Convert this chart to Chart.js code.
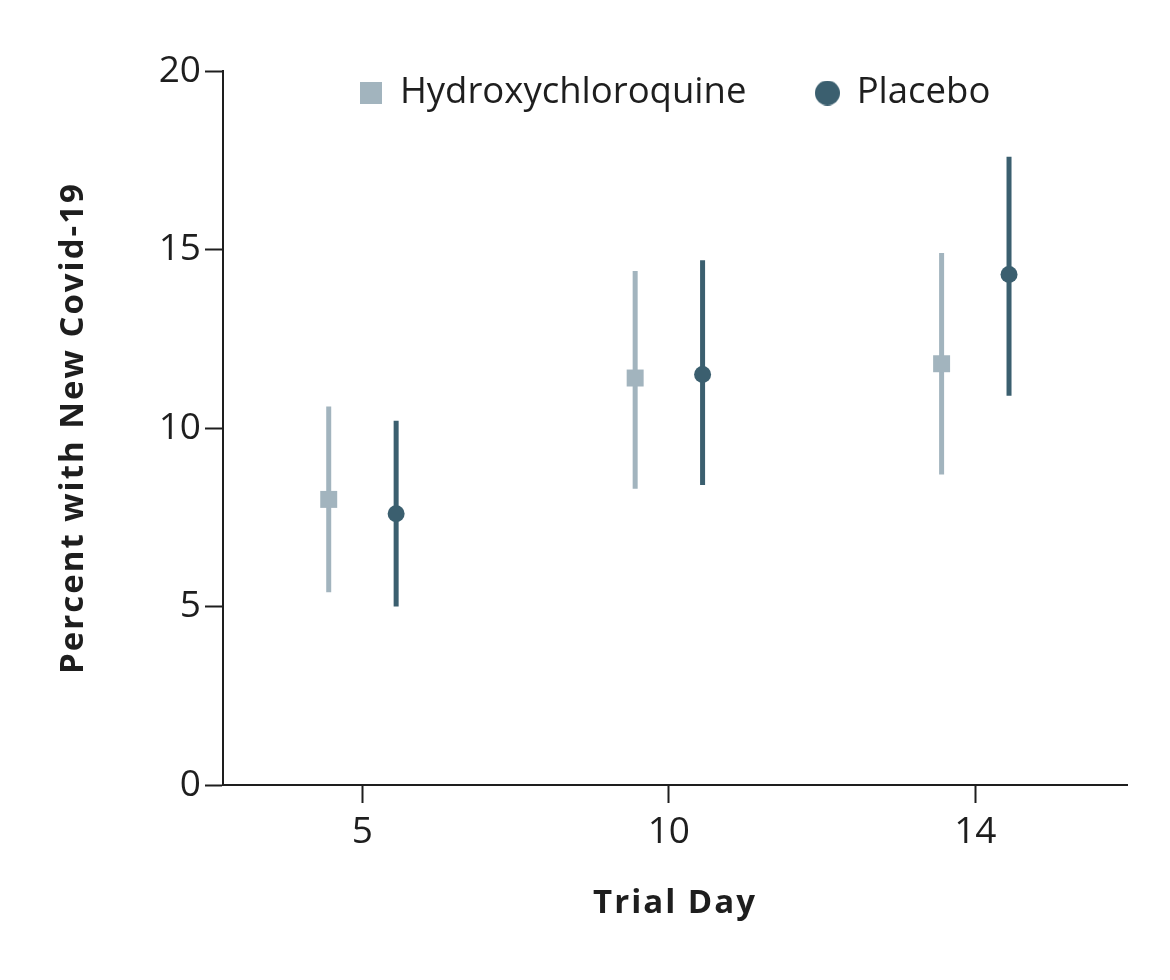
<!DOCTYPE html>
<html>
<head>
<meta charset="utf-8">
<script src="https://cdn.jsdelivr.net/npm/chart.js@4.4.1/dist/chart.umd.min.js"></script>
<style>
  html, body { margin: 0; padding: 0; background: #fff; }
  #wrap { width: 1170px; height: 980px; }
</style>
</head>
<body>
<div id="wrap"><canvas id="c" width="1170" height="980"></canvas></div>
<script>
const days = ['5', '10', '14'];
const seriesNames = ['Hydroxychloroquine', 'Placebo'];
const hcqValues = [8.0, 11.4, 11.8];
const hcqLow = [5.4, 8.3, 8.7];
const hcqHigh = [10.6, 14.4, 14.9];
const placeboValues = [7.6, 11.5, 14.3];
const placeboLow = [5.0, 8.4, 10.9];
const placeboHigh = [10.2, 14.7, 17.6];
const yTicks = [0, 5, 10, 15, 20];

const HCQ_COLOR = '#a2b4be';
const PLACEBO_COLOR = '#3b5f6f';
const TEXT_COLOR = '#1e1e1e';
const AXIS_COLOR = '#1e1e1e';
const FONT = '"Open Sans", Lato, sans-serif';
const OFFSET = 0.11;
const LEGEND_SPACING = '0px';
const TITLE_SPACING = '2px';
const LEGEND_CENTER_Y = 93;

function pts(vals, shift) {
  return vals.map((v, i) => ({ x: i + shift, y: v }));
}
function bars(lo, hi, shift) {
  const out = [];
  lo.forEach((l, i) => {
    out.push({ x: i + shift, y: l });
    out.push({ x: i + shift, y: hi[i] });
    out.push({ x: i + shift, y: null });
  });
  return out;
}
function legendIcon(kind, color, size) {
  const c = document.createElement('canvas');
  c.width = size; c.height = size;
  const g = c.getContext('2d');
  g.fillStyle = color;
  if (kind === 'rect') g.fillRect(0, 0, size, size);
  else { g.beginPath(); g.arc(size / 2, size / 2, size / 2, 0, Math.PI * 2); g.fill(); }
  return c;
}
const legendIcons = [legendIcon('rect', HCQ_COLOR, 22), legendIcon('circle', PLACEBO_COLOR, 25)];

const layoutTweaks = {
  id: 'layoutTweaks',
  beforeLayout(chart) {
    const lg = chart.legend;
    if (lg && !lg._tweaked) {
      lg._tweaked = true;
      lg.isHorizontal = () => true;
      const origFit = lg.fit, origDraw = lg.draw;
      lg.fit = function () {
        const c = this.ctx; c.save(); c.letterSpacing = LEGEND_SPACING;
        origFit.apply(this, arguments); c.restore();
      };
      lg.draw = function () {
        const c = this.ctx; c.save(); c.letterSpacing = LEGEND_SPACING;
        origDraw.apply(this, arguments); c.restore();
      };
    }
    ['x', 'y'].forEach(id => {
      const s = chart.scales[id];
      if (s && !s._tweaked) {
        s._tweaked = true;
        const origTitle = s.drawTitle;
        s.drawTitle = function () {
          const c = this.ctx; c.save(); c.letterSpacing = TITLE_SPACING;
          origTitle.apply(this, arguments); c.restore();
        };
      }
    });
  },
  afterLayout(chart) {
    const lg = chart.legend;
    const ca = chart.chartArea;
    const fs = lg.options.labels.font.size;
    lg.left = ca.left;
    lg.right = ca.right;
    lg.top = LEGEND_CENTER_Y - fs / 2 - lg.options.labels.padding;
    lg.bottom = lg.top + lg.height;
  }
};

new Chart(document.getElementById('c'), {
  type: 'scatter',
  plugins: [layoutTweaks],
  data: {
    datasets: [
      {
        label: seriesNames[0], data: pts(hcqValues, -OFFSET), order: 0,
        pointStyle: 'rect', pointRadius: 12, pointHoverRadius: 12,
        backgroundColor: HCQ_COLOR, borderWidth: 0
      },
      {
        label: seriesNames[1], data: pts(placeboValues, OFFSET), order: 0,
        pointStyle: 'circle', pointRadius: 8.5, pointHoverRadius: 8.5,
        backgroundColor: PLACEBO_COLOR, borderWidth: 0
      },
      {
        type: 'line', label: 'hcqCI', data: bars(hcqLow, hcqHigh, -OFFSET), order: 1,
        showLine: true, spanGaps: false, pointRadius: 0, borderColor: HCQ_COLOR,
        borderWidth: 5, borderCapStyle: 'butt'
      },
      {
        type: 'line', label: 'placeboCI', data: bars(placeboLow, placeboHigh, OFFSET), order: 1,
        showLine: true, spanGaps: false, pointRadius: 0, borderColor: PLACEBO_COLOR,
        borderWidth: 5, borderCapStyle: 'butt'
      }
    ]
  },
  options: {
    responsive: false,
    animation: false,
    events: [],
    layout: { padding: { left: 54, top: 71, right: 43, bottom: 57 } },
    plugins: {
      tooltip: { enabled: false },
      legend: {
        position: 'chartArea',
        align: 'center',
        labels: {
          usePointStyle: true,
          boxWidth: 22,
          boxHeight: 25,
          padding: 70,
          color: TEXT_COLOR,
          font: { family: FONT, size: 36.5 },
          filter: (item) => item.datasetIndex < 2,
          generateLabels: (chart) => {
            const items = Chart.defaults.plugins.legend.labels.generateLabels(chart);
            items.forEach(it => { if (it.datasetIndex < 2) it.pointStyle = legendIcons[it.datasetIndex]; });
            return items;
          }
        }
      }
    },
    scales: {
      x: {
        type: 'linear',
        min: -0.455,
        max: 2.495,
        afterFit: (s) => { s.height = 138; },
        afterBuildTicks: (s) => { s.ticks = days.map((d, i) => ({ value: i })); },
        ticks: {
          callback: (v) => days[v],
          color: TEXT_COLOR,
          font: { family: FONT, size: 37 },
          padding: 7,
          maxRotation: 0
        },
        grid: { display: true, drawOnChartArea: false, drawTicks: true, tickLength: 18, tickColor: AXIS_COLOR, tickWidth: 2 },
        border: { display: true, color: AXIS_COLOR, width: 2 },
        title: { display: true, text: 'Trial Day', color: TEXT_COLOR, font: { family: FONT, size: 33, weight: 'bold' }, padding: 0 }
      },
      y: {
        min: 0,
        max: 20,
        afterFit: (s) => { s.width = 169; },
        afterBuildTicks: (s) => { s.ticks = yTicks.map(v => ({ value: v })); },
        ticks: {
          color: TEXT_COLOR,
          font: { family: FONT, size: 37 },
          padding: 4
        },
        grid: { display: true, drawOnChartArea: false, drawTicks: true, tickLength: 18, tickColor: AXIS_COLOR, tickWidth: 2 },
        border: { display: true, color: AXIS_COLOR, width: 2 },
        title: { display: true, text: 'Percent with New Covid-19', color: TEXT_COLOR, font: { family: FONT, size: 33, weight: 'bold' }, padding: 0 }
      }
    }
  }
});
</script>
</body>
</html>
